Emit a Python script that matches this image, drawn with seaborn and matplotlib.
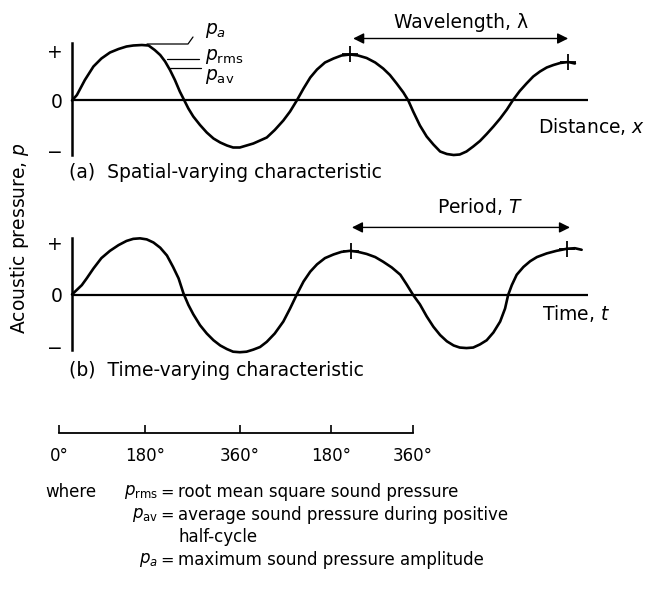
import matplotlib
matplotlib.use("Agg")
import matplotlib.pyplot as plt
from matplotlib.lines import Line2D
import seaborn as sns

# ---------------- data ----------------
# (a) spatial-varying wave: position (deg of phase) and pressure (units of the '+' mark)
spatial_deg = [0, 8, 21, 35, 48, 62, 76, 89, 100, 114, 125, 135, 144, 152, 160, 168, 176,
               183, 190, 198, 209, 220, 231, 242, 253, 263, 274, 285, 296, 307, 318, 331,
               345, 356, 367, 378, 389, 400, 413, 427, 440, 454, 467, 481, 495, 508, 519,
               530, 541, 549, 557, 568, 579, 590, 601, 612, 623, 633, 644, 655, 666, 677,
               688, 699, 710, 720, 731, 742, 753, 764, 775, 786, 797, 810, 821]
spatial_p = [0.0, 0.11, 0.41, 0.68, 0.84, 0.96, 1.03, 1.08, 1.10, 1.11, 1.10, 1.01, 0.91,
             0.78, 0.61, 0.41, 0.18, 0.01, -0.16, -0.32, -0.49, -0.64, -0.76, -0.84, -0.90,
             -0.94, -0.94, -0.90, -0.86, -0.80, -0.74, -0.59, -0.40, -0.22, 0.0, 0.24, 0.46,
             0.62, 0.76, 0.84, 0.90, 0.92, 0.90, 0.85, 0.76, 0.64, 0.51, 0.34, 0.16, 0.0,
             -0.22, -0.50, -0.72, -0.88, -1.02, -1.07, -1.09, -1.08, -1.02, -0.92, -0.81,
             -0.67, -0.52, -0.36, -0.18, 0.01, 0.19, 0.34, 0.48, 0.58, 0.66, 0.71, 0.75,
             0.77, 0.74]
spatial_marks_deg = [454, 810]
spatial_marks_p = [0.93, 0.77]

# (b) time-varying wave
time_deg = [0, 8, 16, 24, 35, 48, 62, 76, 89, 100, 111, 122, 133, 144, 155, 165, 174, 182,
            190, 198, 209, 220, 231, 242, 253, 263, 274, 285, 296, 307, 318, 331, 345, 356,
            367, 378, 389, 400, 413, 427, 440, 454, 467, 481, 495, 508, 522, 536, 546, 557,
            568, 579, 590, 601, 612, 623, 633, 644, 655, 666, 677, 688, 699, 707, 712, 718,
            726, 737, 748, 759, 775, 791, 808, 821, 832]
time_p = [0.0, 0.09, 0.18, 0.31, 0.50, 0.70, 0.84, 0.95, 1.03, 1.07, 1.08, 1.06, 1.00, 0.90,
          0.75, 0.53, 0.31, 0.02, -0.20, -0.38, -0.59, -0.75, -0.88, -0.98, -1.05, -1.10,
          -1.11, -1.10, -1.06, -1.01, -0.91, -0.75, -0.52, -0.27, 0.0, 0.25, 0.44, 0.58,
          0.70, 0.77, 0.82, 0.84, 0.82, 0.78, 0.72, 0.63, 0.52, 0.38, 0.20, -0.01, -0.19,
          -0.42, -0.62, -0.78, -0.90, -0.98, -1.02, -1.03, -1.02, -0.96, -0.88, -0.73,
          -0.52, -0.27, -0.01, 0.18, 0.38, 0.53, 0.64, 0.72, 0.79, 0.84, 0.88, 0.89, 0.86]
time_marks_deg = [455, 808]
time_marks_p = [0.84, 0.88]

ytick_vals = [1, 0, -1]
ytick_labels = ["+", "0", "\u2212"]

scale_ticks = [0, 175, 368, 553, 720]
scale_labels = ["0\u00b0", "180\u00b0", "360\u00b0", "180\u00b0", "360\u00b0"]

# ---------------- styling ----------------
sns.set_theme(style="white")
plt.rcParams["font.family"] = ["DejaVu Sans"]
plt.rcParams["mathtext.fontset"] = "dejavusans"
for k in ["text.color", "axes.labelcolor", "xtick.color", "ytick.color",
          "xtick.labelcolor", "ytick.labelcolor"]:
    plt.rcParams[k] = "black"

W, H = 650, 608
FS = 13.5


def fx(x):
    return x / W


def fy(y):
    return 1 - y / H


fig = plt.figure(figsize=(6.5, 6.08), dpi=100)
fig.patch.set_facecolor("white")


def wave_panel(top, bottom, zero, unit, xs, ys, mx, my, arrow_y, arrow_x):
    ax = fig.add_axes([fx(72), fy(bottom), fx(588) - fx(72), (bottom - top) / H])
    ax.set_facecolor("none")
    ax.set_xlim(0, 842.4)
    ax.set_ylim(-(bottom - zero) / unit, (zero - top) / unit)
    for s in ["top", "right", "bottom"]:
        ax.spines[s].set_visible(False)
    ax.spines["left"].set_color("black")
    ax.spines["left"].set_linewidth(1.8)
    ax.axhline(0, color="black", lw=1.6, zorder=1)
    sns.lineplot(x=xs, y=ys, ax=ax, color="black", linewidth=1.9, sort=False,
                 estimator=None, zorder=3)
    ax.lines[-1].set_clip_on(False)
    ax.lines[-1].set_solid_joinstyle("round")
    ax.plot(mx, my, ls="none", marker="+", ms=12, mew=1.3, color="black",
            clip_on=False, zorder=4)
    ax.set_yticks(ytick_vals)
    ax.set_yticklabels(ytick_labels, fontsize=FS)
    ax.tick_params(axis="y", length=0, pad=7, labelcolor="black")
    ax.set_xticks([])
    ax.set_xlabel("")
    ax.set_ylabel("")
    ax.annotate("", xy=(arrow_x[1], arrow_y), xytext=(arrow_x[0], arrow_y),
                arrowprops=dict(arrowstyle="<|-|>", color="black", lw=1.0,
                                mutation_scale=16, shrinkA=0, shrinkB=0),
                annotation_clip=False)
    return ax


ax_a = wave_panel(43, 155, 100.5, 50, spatial_deg, spatial_p,
                  spatial_marks_deg, spatial_marks_p, 1.24, (459, 810))
ax_b = wave_panel(238, 350, 294.5, 52, time_deg, time_p,
                  time_marks_deg, time_marks_p, 1.29, (457, 813))

# phase scale
ax_s = fig.add_axes([fx(59), fy(433), fx(413) - fx(59), 0.02])
ax_s.set_facecolor("none")
ax_s.set_xlim(0, 720)
ax_s.set_ylim(0, 1)
for s in ["top", "right", "left"]:
    ax_s.spines[s].set_visible(False)
ax_s.spines["bottom"].set_color("black")
ax_s.spines["bottom"].set_linewidth(1.3)
ax_s.set_yticks([])
ax_s.set_xticks(scale_ticks)
ax_s.set_xticklabels(scale_labels, fontsize=12)
ax_s.tick_params(axis="x", bottom=True, direction="in", length=6, width=1.2, pad=10,
                 color="black", labelcolor="black")

# ---------------- text ----------------
fig.text(fx(461), fy(22), "Wavelength, \u03bb", fontsize=FS, ha="center", va="center")
fig.text(fx(480), fy(206), "Period, $T$", fontsize=FS, ha="center", va="center")
fig.text(fx(538), fy(127), "Distance, $x$", fontsize=FS, ha="left", va="center")
fig.text(fx(542), fy(313), "Time, $t$", fontsize=FS, ha="left", va="center")
fig.text(fx(69), fy(173), "(a)  Spatial-varying characteristic", fontsize=FS,
         ha="left", va="center")
fig.text(fx(69), fy(370), "(b)  Time-varying characteristic", fontsize=FS,
         ha="left", va="center")
fig.text(fx(20), fy(238), "Acoustic pressure, $p$", fontsize=FS, rotation=90,
         ha="center", va="center")

fig.text(fx(205), fy(30), "$p_a$", fontsize=FS, ha="left", va="center")
fig.text(fx(205), fy(57), r"$p_{\mathrm{rms}}$", fontsize=FS, ha="left", va="center")
fig.text(fx(205), fy(77), r"$p_{\mathrm{av}}$", fontsize=FS, ha="left", va="center")
for xs, ys in [((147, 188, 193), (44, 44, 37)), ((167, 199), (59, 59)), ((170, 201), (68, 68))]:
    fig.add_artist(Line2D([fx(v) for v in xs], [fy(v) for v in ys], color="black", lw=0.9))

FS2 = 12
fig.text(fx(45), fy(492), "where", fontsize=FS2, ha="left", va="center")
rows = [(492, r"$p_{\mathrm{rms}}$", "root mean square sound pressure"),
        (515, r"$p_{\mathrm{av}}$", "average sound pressure during positive"),
        (560, "$p_a$", "maximum sound pressure amplitude")]
for y, lab, desc in rows:
    fig.text(fx(158), fy(y), lab, fontsize=FS2, ha="right", va="center")
    fig.text(fx(167.5), fy(y), "=", fontsize=11.5, ha="center", va="center")
    fig.text(fx(178), fy(y), desc, fontsize=FS2, ha="left", va="center")
fig.text(fx(178), fy(537), "half-cycle", fontsize=FS2, ha="left", va="center")

fig.savefig("out.png", dpi=100, facecolor="white")
